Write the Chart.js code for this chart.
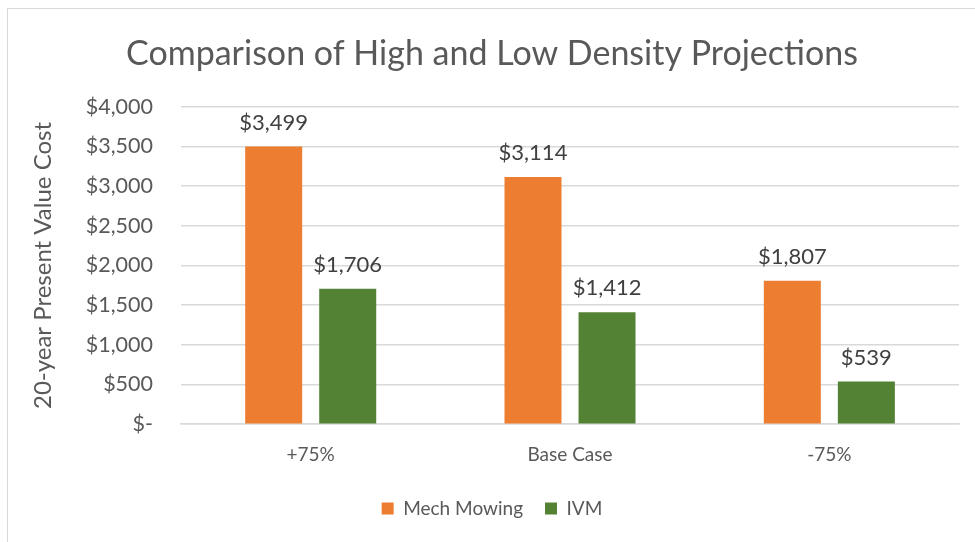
<!DOCTYPE html>
<html lang="en">
<head>
  <meta charset="UTF-8" />
  <title>Comparison of High and Low Density Projections</title>
  <script src="https://cdn.jsdelivr.net/npm/chart.js"></script>
  <style>
    html, body {
      margin: 0;
      padding: 0;
      background: #fff;
      overflow: hidden;
    }
    .frame {
      position: absolute;
      left: 7px;
      top: 8px;
      width: 990px;
      height: 550px;
      border: 1px solid #d9d9d9;
      box-sizing: border-box;
    }
    .chart-box {
      position: absolute;
      left: 1px;
      top: 1px;
      width: 980px;
      height: 540px;
    }
  </style>
</head>
<body>
  <div class="frame">
    <div class="chart-box">
      <canvas id="costChart"></canvas>
    </div>
  </div>

  <script>
    const categories = ['+75%', 'Base Case', '-75%'];
    const mechMowing = [3499, 3114, 1807];
    const ivm = [1706, 1412, 539];
    const yTicks = [0, 500, 1000, 1500, 2000, 2500, 3000, 3500, 4000];

    const textColor = '#595959';
    const fontFamily = 'Lato, "Open Sans", sans-serif';

    function money(v) {
      if (v === 0) return '$-';
      return '$' + v.toLocaleString('en-US');
    }

    // draws the value above each bar, like excel data labels
    const barLabels = {
      id: 'barLabels',
      afterDatasetsDraw(chart) {
        const ctx = chart.ctx;
        ctx.save();
        ctx.font = '22px ' + fontFamily;
        ctx.fillStyle = '#404040';
        ctx.textAlign = 'center';
        ctx.textBaseline = 'bottom';
        chart.data.datasets.forEach((ds, i) => {
          chart.getDatasetMeta(i).data.forEach((bar, j) => {
            ctx.fillText(money(ds.data[j]), bar.x, bar.y - 13);
          });
        });
        ctx.restore();
      }
    };

    const ctx = document.getElementById('costChart').getContext('2d');

    new Chart(ctx, {
      type: 'bar',
      data: {
        labels: categories,
        datasets: [
          {
            label: 'Mech Mowing',
            data: mechMowing,
            backgroundColor: '#ED7D31',
            categoryPercentage: 0.571,
            barPercentage: 0.77
          },
          {
            label: 'IVM',
            data: ivm,
            backgroundColor: '#548235',
            categoryPercentage: 0.571,
            barPercentage: 0.77
          }
        ]
      },
      options: {
        responsive: true,
        maintainAspectRatio: false,
        animation: false,
        layout: {
          padding: { left: 16, right: 30, top: 14, bottom: 22 }
        },
        scales: {
          x: {
            grid: { display: false },
            border: { color: '#d9d9d9', width: 1.5 },
            ticks: {
              color: textColor,
              font: { family: fontFamily, size: 19 },
              padding: 11
            }
          },
          y: {
            min: 0,
            max: 4000,
            afterBuildTicks(axis) {
              axis.ticks = yTicks.map(v => ({ value: v }));
            },
            grid: { color: '#d9d9d9', lineWidth: 1.5, drawTicks: false },
            border: { display: false },
            ticks: {
              color: textColor,
              font: { family: fontFamily, size: 21.5 },
              padding: 28,
              callback: v => money(v)
            },
            title: {
              display: true,
              text: '20-year Present Value Cost',
              color: textColor,
              font: { family: fontFamily, size: 24 },
              padding: { bottom: 0 }
            }
          }
        },
        plugins: {
          title: {
            display: true,
            text: 'Comparison of High and Low Density Projections',
            color: textColor,
            font: { family: fontFamily, size: 34, weight: 'normal' },
            padding: { top: 10, bottom: 32 }
          },
          legend: {
            position: 'bottom',
            labels: {
              color: textColor,
              font: { family: fontFamily, size: 19 },
              boxWidth: 12,
              boxHeight: 12,
              padding: 22
            }
          },
          tooltip: { enabled: false }
        }
      },
      plugins: [barLabels]
    });
  </script>
</body>
</html>
